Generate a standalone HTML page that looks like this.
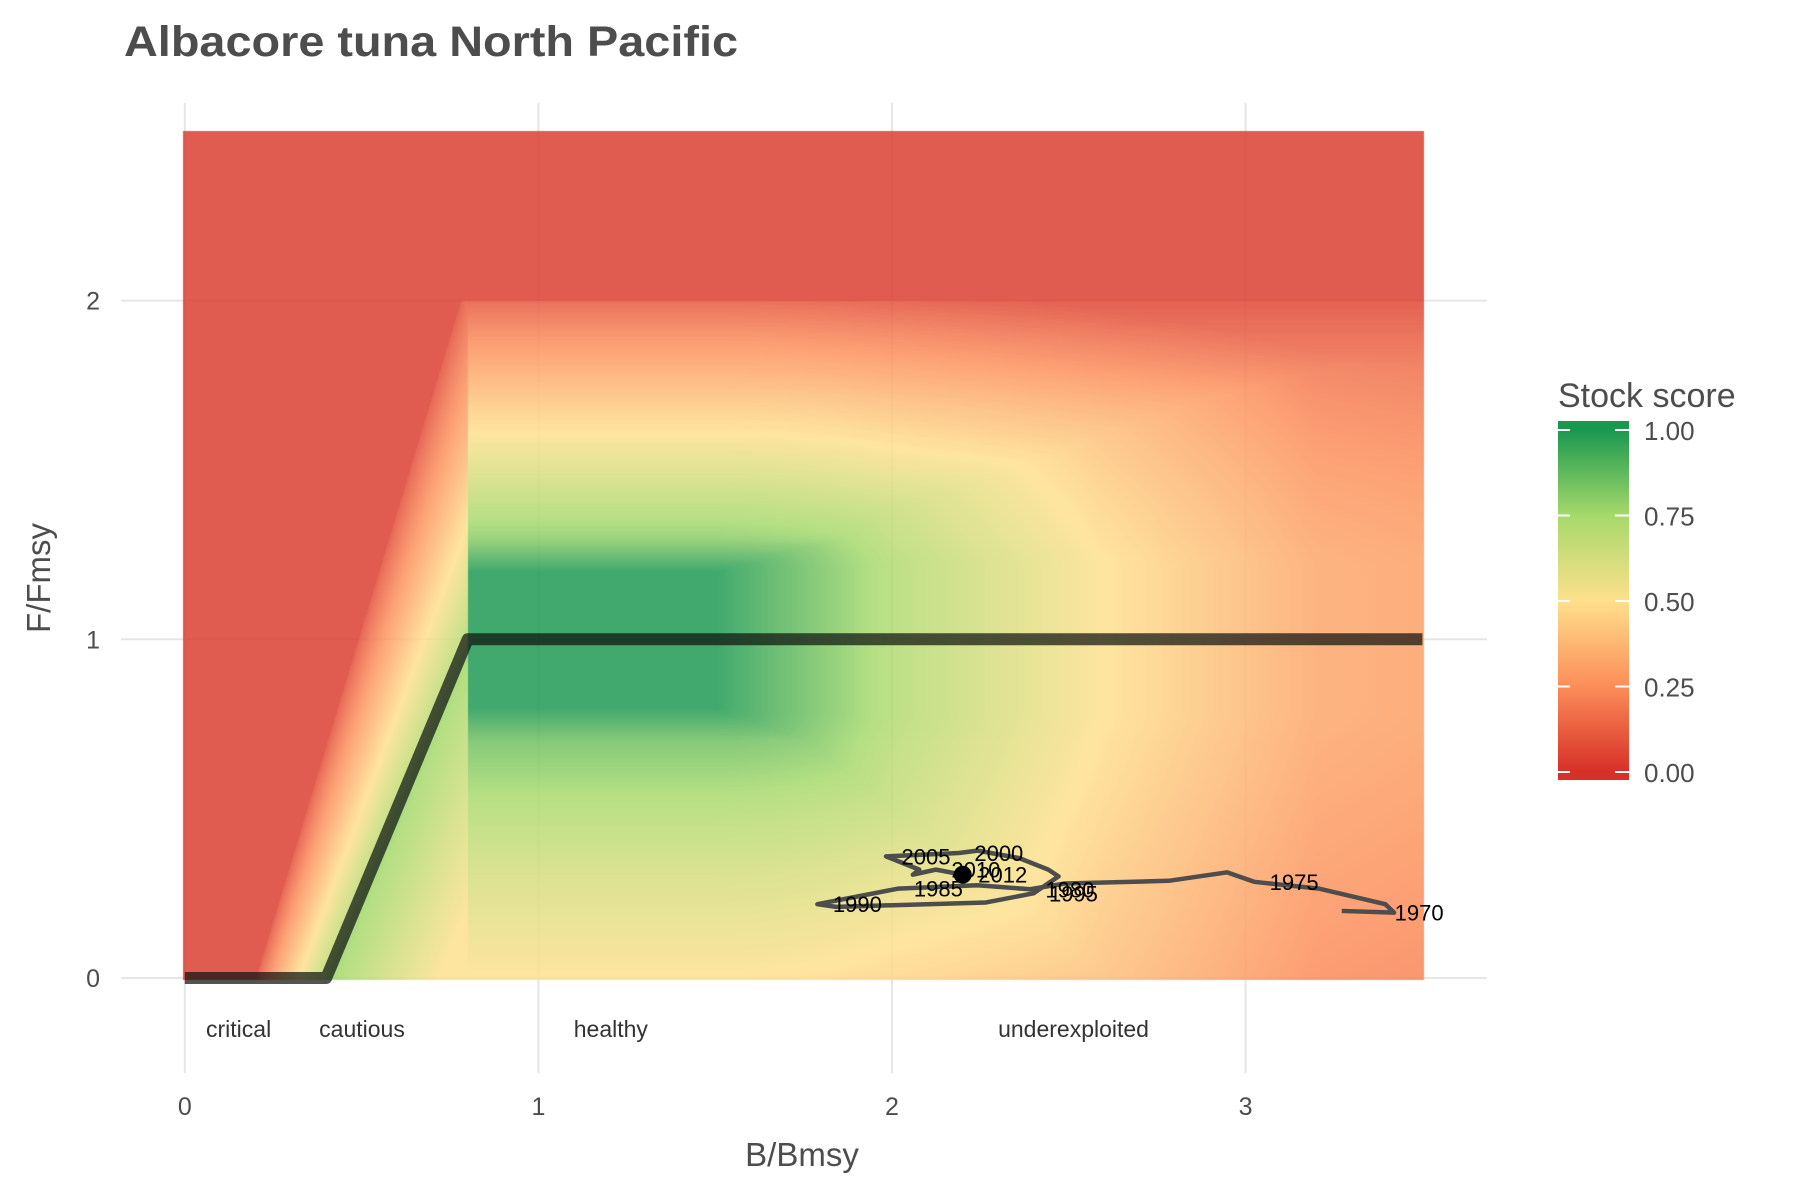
<!DOCTYPE html>
<html><head><meta charset="utf-8">
<style>
html,body{margin:0;padding:0;background:#fff;}
#wrap{position:relative;width:1800px;height:1200px;overflow:hidden;}
canvas{position:absolute;left:0;top:0;}
svg{position:absolute;left:0;top:0;}
text{font-family:"Liberation Sans",sans-serif;}
</style></head>
<body>
<div id="wrap">
<svg id="bg" width="1800" height="1200"></svg>
<canvas id="heat" width="1800" height="1200"></canvas>
<svg id="fg" width="1800" height="1200">
  <text x="124" y="56" font-size="43" font-weight="bold" fill="#4d4d4d" textLength="614" lengthAdjust="spacingAndGlyphs">Albacore tuna North Pacific</text>
  <text x="802" y="1166" font-size="33" fill="#4d4d4d" text-anchor="middle">B/Bmsy</text>
  <text transform="translate(50,578) rotate(-90)" font-size="33" fill="#4d4d4d" text-anchor="middle">F/Fmsy</text>
  <text x="1558" y="407" font-size="34" fill="#4d4d4d">Stock score</text>
</svg>
</div>
<script>
const xTicks=[0,1,2,3];
const yTicks=[0,1,2];
const legendBreaks=[0,0.25,0.5,0.75,1];
const legendLabels=["0.00","0.25","0.50","0.75","1.00"];
const zoneNames=["critical","cautious","healthy","underexploited"];
const zoneB=[0.06,0.38,1.1,2.3];
const refB=[0,0.4,0.8,3.5];
const refF=[0,0,1,1];
const years=[1969,1970,1971,1973,1975,1976,1978,1979,1980,1983,1985,1990,1991,1993,1995,1996,1997,1998,1999,2000,2005,2007,2008,2010,2012];
const trajB=[3.272,3.42,3.395,3.207,3.024,2.948,2.783,2.489,2.39,2.242,2.018,1.789,1.842,2.266,2.40,2.471,2.442,2.36,2.242,2.189,1.983,2.077,2.059,2.124,2.20];
const trajF=[0.198,0.193,0.218,0.264,0.284,0.312,0.287,0.279,0.262,0.274,0.264,0.218,0.210,0.223,0.25,0.30,0.32,0.354,0.376,0.369,0.359,0.32,0.305,0.32,0.305];
const labelYears=[1970,1975,1980,1985,1990,1995,2000,2005,2010,2012];

const X0=184.8,XU=353.6,Y0=978,YU=338.7;
function X(b){return X0+b*XU;}
function Y(f){return Y0-f*YU;}
const NS="http://www.w3.org/2000/svg";
function mk(parent,tag,attrs){const e=document.createElementNS(NS,tag);for(const k in attrs)e.setAttribute(k,attrs[k]);parent.appendChild(e);return e;}

const bg=document.getElementById('bg');
xTicks.forEach(t=>{
  const l=mk(bg,'line',{x1:X(t),x2:X(t),y1:103,y2:1073,stroke:'#e6e6e6','stroke-width':2});
  
  
});
yTicks.forEach(t=>{
  const l=mk(bg,'line',{x1:121,x2:1487,y1:Y(t),y2:Y(t),stroke:'#e6e6e6','stroke-width':2});
  
  
});

const stops=[[0,[215,48,39]],[0.25,[252,141,89]],[0.5,[254,224,139]],[0.75,[166,217,106]],[1,[26,152,80]]];
function col(v){v=Math.max(0,Math.min(1,v));for(let i=1;i<stops.length;i++){if(v<=stops[i][0]){const a=stops[i-1],b=stops[i];const t=(v-a[0])/(b[0]-a[0]);return [a[1][0]+(b[1][0]-a[1][0])*t,a[1][1]+(b[1][1]-a[1][1])*t,a[1][2]+(b[1][2]-a[1][2])*t];}}return stops[4][1];}
function interp(x,xs,ys){if(x<=xs[0])return ys[0];for(let i=1;i<xs.length;i++){if(x<=xs[i]){const t=(x-xs[i-1])/(xs[i]-xs[i-1]);return ys[i-1]+(ys[i]-ys[i-1])*t;}}return ys[ys.length-1];}
function score(B,F){
  if(F>2) return 0.03;
  if(B<0.8){
    const L=0.4+0.4*F, R=0.2+0.29*F;
    if(B<=L){const t=Math.max(0,(B-R)/(L-R));return t<=0?0.03:0.06+0.66*Math.pow(t,0.8);}
    return Math.max(0.5,0.78-0.35*(B-L)/0.4);
  }
  const fB=interp(B,[0.8,1.5,2.0,2.6,3.2,3.5],[1,1,0.72,0.5,0.32,0.3]);
  const dF=Math.abs(F-1);
  const fF=F>1?interp(dF,[0,0.2,0.3,0.5,0.7,0.9,1.0],[1,1,0.8,0.6,0.42,0.22,0.1]):interp(dF,[0,0.2,0.3,0.5,0.7,1.0],[1,1,0.85,0.72,0.62,0.5]);
  const eu=Math.max(0,1-Math.sqrt((1-fB)*(1-fB)+(1-fF)*(1-fF)));
  return Math.max(0.03,0.5*eu+0.5*Math.min(fB,fF));
}
const cv=document.getElementById('heat');const ctx=cv.getContext('2d');
const px0=Math.round(X(0))-2,px1=Math.round(X(3.5))+2,py0=Math.round(Y(2.5)),py1=Math.round(Y(0))+2;
const img=ctx.createImageData(px1-px0,py1-py0);
for(let y=py0;y<py1;y++){const F=(Y0-y)/YU;for(let x=px0;x<px1;x++){const B=(x-X0)/XU;const c=col(score(Math.max(0,B),Math.max(0,F)));const i=((y-py0)*(px1-px0)+(x-px0))*4;img.data[i]=c[0];img.data[i+1]=c[1];img.data[i+2]=c[2];img.data[i+3]=212;}}
ctx.putImageData(img,px0,py0);

const fg=document.getElementById('fg');
xTicks.forEach(t=>{const e=mk(fg,'text',{x:X(t),y:1115,'font-size':25,fill:'#4d4d4d','text-anchor':'middle'});e.textContent=t;
  
  });
yTicks.forEach(t=>{const e=mk(fg,'text',{x:100,y:Y(t)+9,'font-size':25,fill:'#4d4d4d','text-anchor':'end'});e.textContent=t;
  
  });
zoneNames.forEach((n,i)=>{const e=mk(fg,'text',{x:X(zoneB[i]),y:1037,'font-size':23,fill:'#333'});e.textContent=n;
  
  });
const rp=refB.map((b,i)=>X(b)+','+Y(refF[i])).join(' ');
const ref=mk(fg,'polyline',{points:rp,fill:'none',stroke:'rgba(15,20,15,0.72)','stroke-width':12,'stroke-linejoin':'round'});


const tp=trajB.map((b,i)=>X(b)+','+Y(trajF[i])).join(' ');
const tr=mk(fg,'polyline',{points:tp,fill:'none',stroke:'#4d4d4d','stroke-width':4.5,'stroke-linejoin':'round'});


years.forEach((yr,i)=>{if(labelYears.indexOf(yr)<0)return;
  const off=yr===1970?25:40;
  const e=mk(fg,'text',{x:X(trajB[i])+off,y:Y(trajF[i])+8,'font-size':22,fill:'#000','text-anchor':'middle'});e.textContent=yr;
  
  });
const li=years.length-1;
const dot=mk(fg,'circle',{cx:X(trajB[li]),cy:Y(trajF[li]),r:9,fill:'#000'});



const LT=421,LB=780,LX=1558,LW=71;
function LY(v){return 772-342*v;}
const defs=mk(fg,'defs',{});
const grad=mk(defs,'linearGradient',{id:'lg',x1:0,y1:1,x2:0,y2:0,gradientUnits:'userSpaceOnUse'});
grad.setAttribute('y1',LY(0));grad.setAttribute('y2',LY(1));
stops.forEach(s=>{mk(grad,'stop',{offset:s[0],'stop-color':'rgb('+s[1].join(',')+')'});});
const bar=mk(fg,'rect',{x:LX,y:LT,width:LW,height:LB-LT,fill:'url(#lg)'});


legendBreaks.forEach((v,i)=>{
  const a=mk(fg,'line',{x1:LX,x2:LX+12,y1:LY(v),y2:LY(v),stroke:'#fff','stroke-width':2});
  
  
  const b=mk(fg,'line',{x1:LX+LW-14,x2:LX+LW,y1:LY(v),y2:LY(v),stroke:'#fff','stroke-width':2});
  
  
  const t=mk(fg,'text',{x:1644,y:LY(v)+10,'font-size':26,fill:'#4d4d4d'});t.textContent=legendLabels[i];
  
  
});
</script>
</body></html>
